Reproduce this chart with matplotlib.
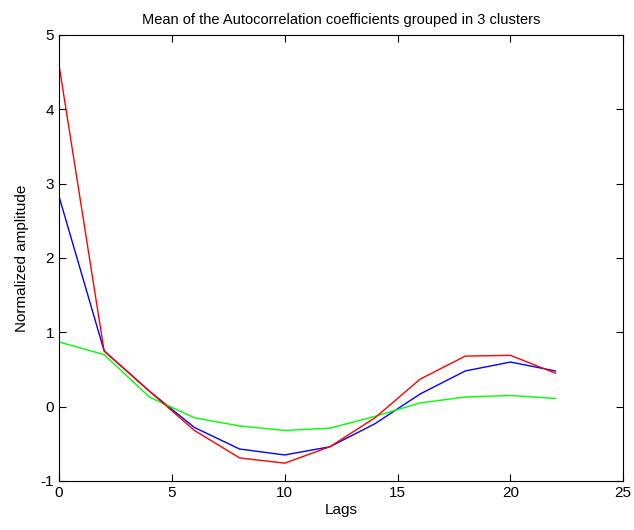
import numpy as np
import matplotlib.pyplot as plt

plt.rcParams['font.family'] = ['Liberation Sans', 'DejaVu Sans']
plt.rcParams['axes.unicode_minus'] = False

lags = [0, 2, 4, 6, 8, 10, 12, 14, 16, 18, 20, 22]
cluster_red = [4.60, 0.75, 0.21, -0.32, -0.69, -0.76, -0.54, -0.15, 0.37, 0.68, 0.69, 0.45]
cluster_blue = [2.83, 0.75, 0.21, -0.28, -0.57, -0.65, -0.54, -0.23, 0.17, 0.48, 0.60, 0.48]
cluster_green = [0.87, 0.70, 0.13, -0.15, -0.26, -0.32, -0.29, -0.13, 0.05, 0.13, 0.15, 0.11]

fig = plt.figure(figsize=(6.34, 5.30), dpi=100)
ax = fig.add_axes([0.093, 0.0925, 0.890, 0.8415])

ax.plot(lags, cluster_blue, color='blue', lw=1)
ax.plot(lags, cluster_green, color='#00ff00', lw=1)
ax.plot(lags, cluster_red, color='red', lw=1)

ax.set_xlim(0, 25)
ax.set_ylim(-1, 5)
ax.set_xticks([0, 5, 10, 15, 20, 25])
ax.set_yticks([-1, 0, 1, 2, 3, 4, 5])
ax.tick_params(direction='in', top=True, right=True, labelsize=11, length=5)
ax.set_xlabel('Lags', fontsize=11, labelpad=2)
ax.set_ylabel('Normalized amplitude', fontsize=11, labelpad=8)
ax.set_title('Mean of the Autocorrelation coefficients grouped in 3 clusters', fontsize=10.5, pad=8)

fig.savefig('out.png', dpi=100)
